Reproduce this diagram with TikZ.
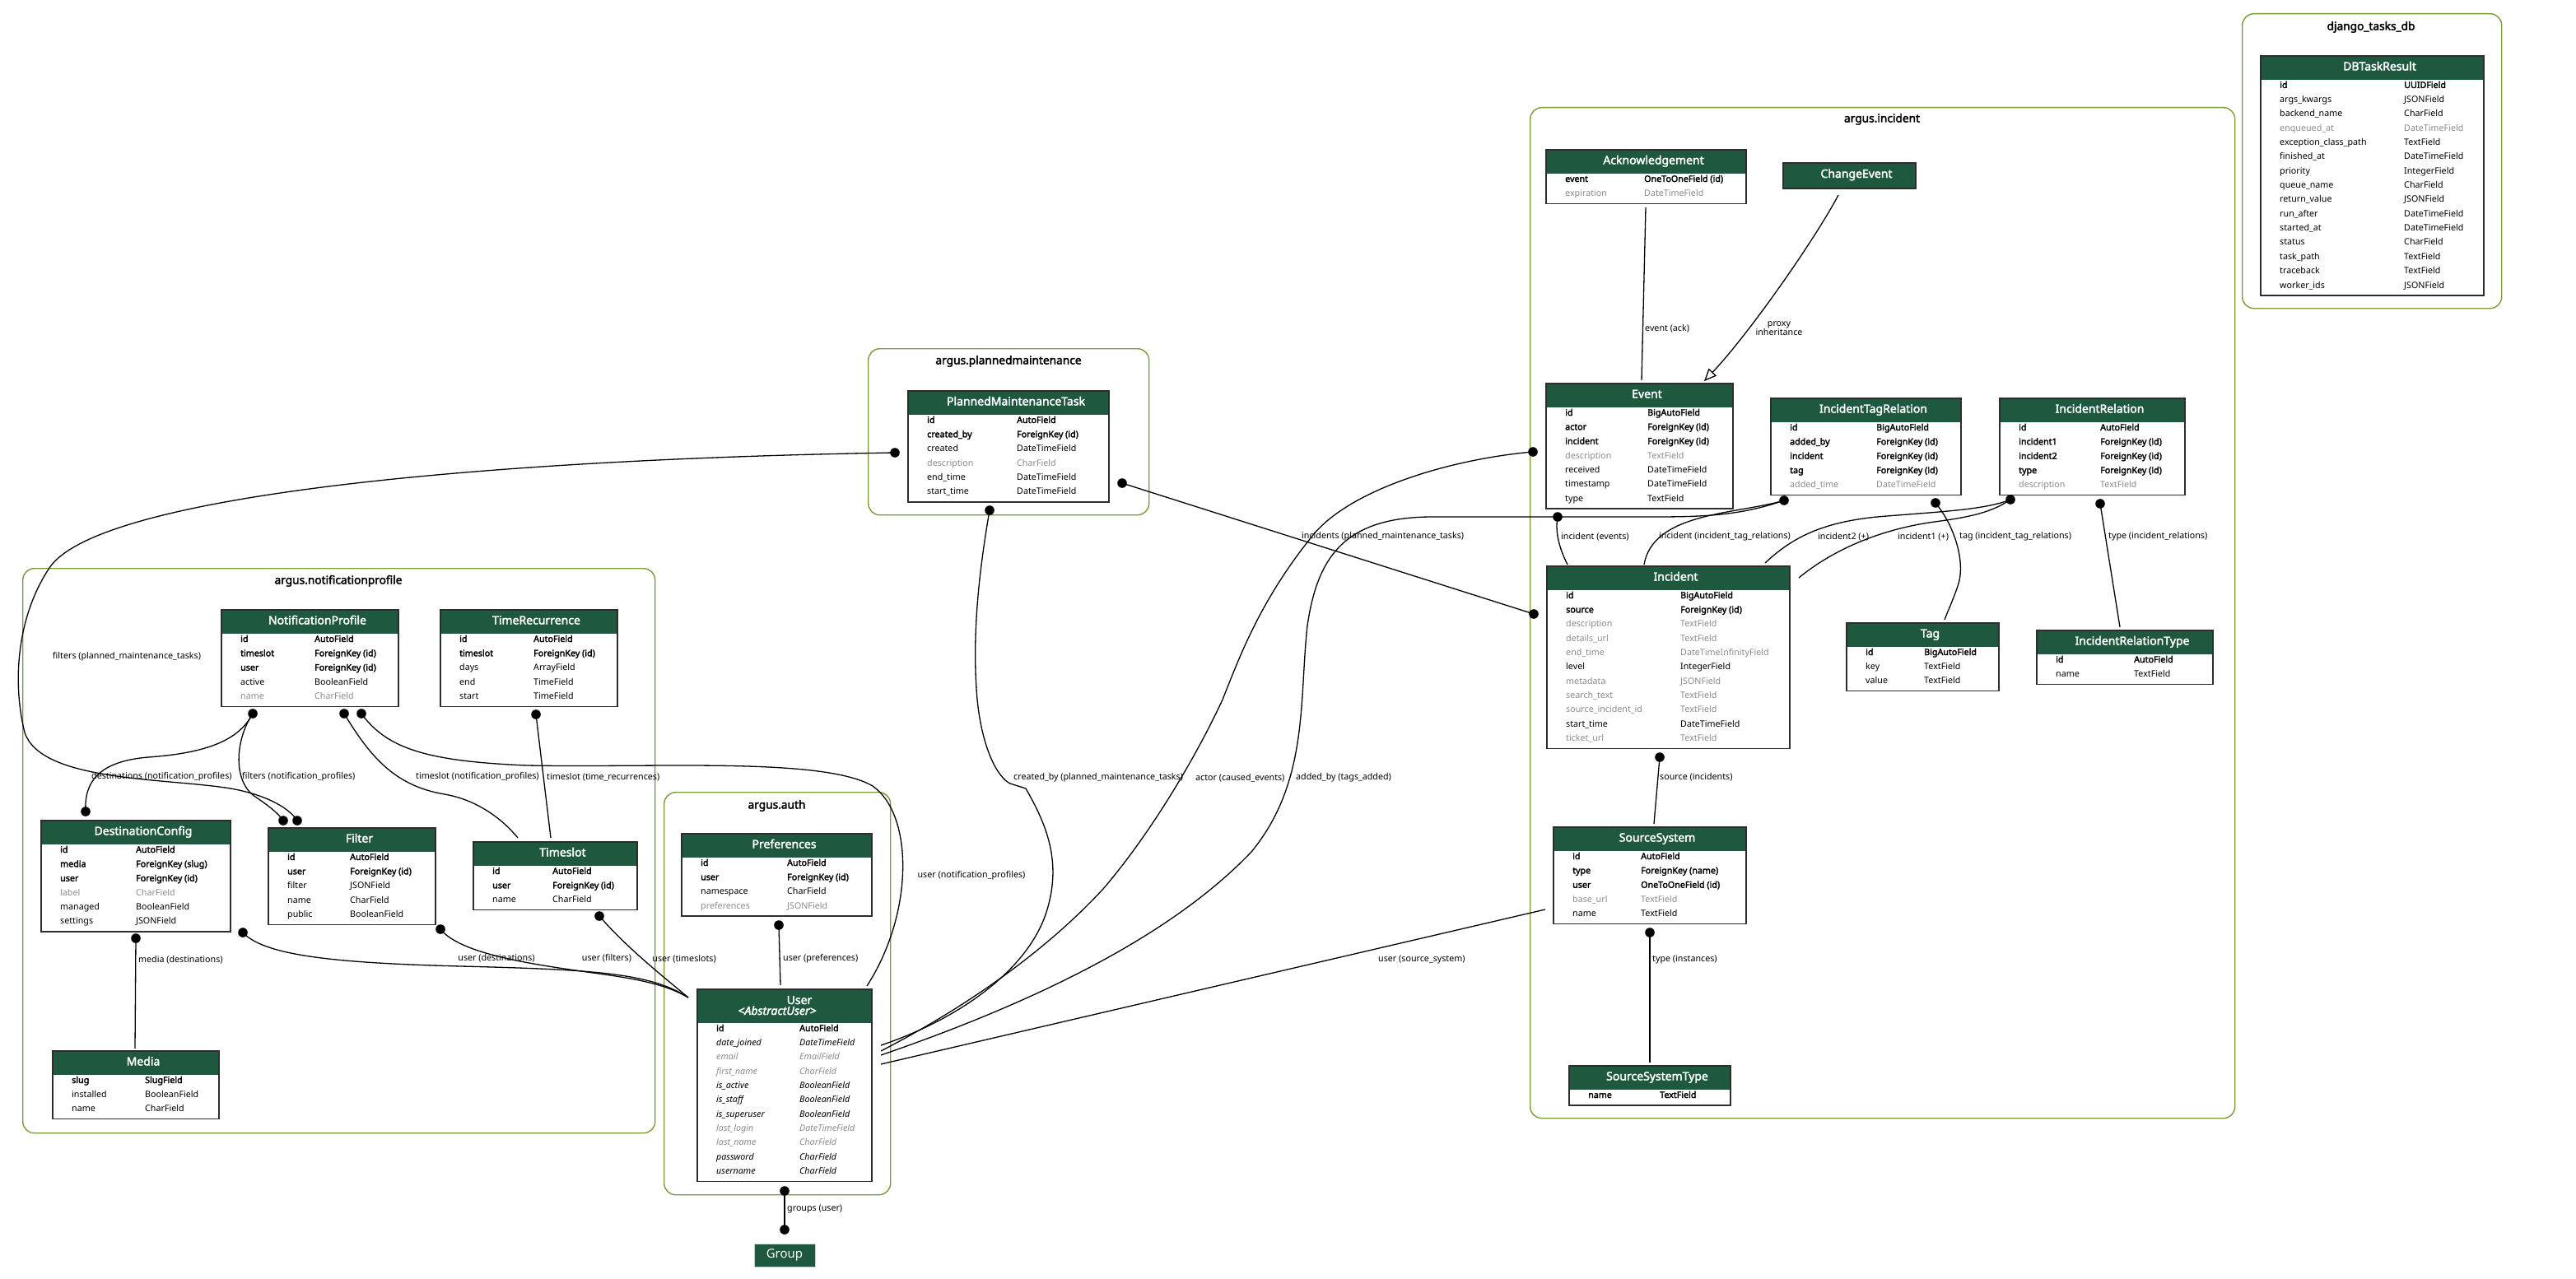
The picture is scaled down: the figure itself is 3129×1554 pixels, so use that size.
\documentclass[tikz,border=0pt]{standalone}
\usepackage{fontspec}
\setmainfont{Noto Sans}
\newfontfamily\boldfam{Noto Sans}[FakeBold=2.5]
\usetikzlibrary{arrows.meta}
\definecolor{hdrg}{RGB}{30,88,63}
\definecolor{clus}{RGB}{122,155,58}
\definecolor{txtgray}{RGB}{140,140,140}
\definecolor{tblb}{RGB}{45,45,45}
\newcommand\KB{\boldfam}
\newcommand\KN{}
\newcommand\KG{\color{txtgray}}
\newcommand\KI{\itshape}
\newcommand\KJ{\itshape\color{txtgray}}
\newcommand\fldfont{\fontsize{10.7}{12.8}\selectfont}
\newcommand\ttlfont{\boldfam\fontsize{14}{16}\selectfont}
\tikzset{
  tblbox/.style={draw=tblb, line width=1.5pt, fill=white, inner sep=0pt, outer sep=0pt},
  tblline/.style={draw=tblb, line width=1.5pt},
  hdrfill/.style={fill=hdrg},
  fldtxt/.style={anchor=base west, inner sep=0pt, font=\fldfont},
  ttl/.style={anchor=base, inner sep=0pt, font=\ttlfont, text=white},
  clusterbox/.style={draw=clus, line width=1.4pt, rounded corners=14pt, inner sep=0pt},
  clustertitle/.style={anchor=base, inner sep=0pt, font=\boldfam\fontsize{13.7}{15}\selectfont},
  edge/.style={draw=black, line width=1.3pt},
  elabel/.style={inner sep=0pt, font=\fldfont},
  fkdot/.style={fill=black},
}
\newcommand\mktable[9]{%
  \pgfmathsetmacro\tblht{#5+19+(#6-1)*17.36}%
  \node[tblbox, minimum width=#4pt, minimum height=\tblht pt, anchor=north west] (#1) at (#2,#3) {};%
  \fill[hdrfill] (#2,#3) rectangle (#2+#4,#3+#5);%
  \node[ttl] (#1-title) at (#2+#4/2+9,#3+17.5) {#9};%
  \foreach \rs/\rn/\rt [count=\ri] in {#8} {%
    \node[fldtxt] (#1-n\ri) at (#2+23,#3+#5+10+\ri*17.36-17.36) {\rs\rn};%
    \node[fldtxt] (#1-t\ri) at (#2+#7,#3+#5+10+\ri*17.36-17.36) {\rs\rt};%
  }%
  \draw[tblline] (#1.north west) rectangle (#1.south east);%
}
\begin{document}
\begin{tikzpicture}[x=1pt,y=-1pt]
\useasboundingbox (0,0) rectangle (3129,1554);
\fill[white] (0,0) rectangle (3129,1554);
% clusters
\node[clusterbox, minimum width=315pt, minimum height=358pt, anchor=north west] (cldjango) at (2723,16) {};
\node[clustertitle] (tdjango) at (2880,36.5) {django\_tasks\_db};
\node[clusterbox, minimum width=856pt, minimum height=1228pt, anchor=north west] (clincident) at (1858,130) {};
\node[clustertitle] (tincident) at (2286,148.5) {argus.incident};
\node[clusterbox, minimum width=341pt, minimum height=202pt, anchor=north west] (clpm) at (1054,423) {};
\node[clustertitle] (tpm) at (1225,442.5) {argus.plannedmaintenance};
\node[clusterbox, minimum width=768pt, minimum height=686pt, anchor=north west] (clnotif) at (27,690) {};
\node[clustertitle] (tnotif) at (411,709.5) {argus.notificationprofile};
\node[clusterbox, minimum width=275pt, minimum height=489pt, anchor=north west] (clauth) at (806,962) {};
\node[clustertitle] (tauth) at (943.5,982.5) {argus.auth};
% endpoints
\coordinate (ackB) at (1999,252);
\coordinate (evT1) at (1994,462);
\coordinate (ceB) at (2233,237);
\coordinate (evT2) at (2070,463);
\coordinate (evDot) at (1892,628);
\coordinate (incT1) at (1904,686);
\coordinate (itrL) at (2167,608);
\coordinate (incT2) at (1997,686);
\coordinate (itrR) at (2351,611);
\coordinate (tagT) at (2362,753);
\coordinate (irL) at (2442,607);
\coordinate (irR) at (2551,612);
\coordinate (incT3) at (2144,684);
\coordinate (incR) at (2185,702);
\coordinate (irtT) at (2575,762);
\coordinate (incB) at (2016,920);
\coordinate (ssT) at (2009,1001);
\coordinate (ssB) at (2004,1133);
\coordinate (sstT) at (2004,1291);
\coordinate (ssL) at (1877,1105);
\coordinate (evL) at (1862,549);
\coordinate (incL) at (1863,746);
\coordinate (pmtL) at (1087,550);
\coordinate (pmtR) at (1363,587);
\coordinate (pmtB) at (1202,620);
\coordinate (userR1) at (1070,1270);
\coordinate (userR2) at (1070,1277);
\coordinate (userR3) at (1070,1282);
\coordinate (userR4) at (1070,1293);
\coordinate (userTR) at (1053,1198);
\coordinate (userT) at (948,1197);
\coordinate (userL) at (836,1212);
\coordinate (userB) at (953,1447);
\coordinate (grpT) at (953,1494);
\coordinate (prefB) at (946,1124);
\coordinate (npB1) at (307,867);
\coordinate (npB2) at (418,867);
\coordinate (npB3) at (439,867);
\coordinate (trB) at (651,868);
\coordinate (tsT1) at (629,1018);
\coordinate (tsT2) at (669,1018);
\coordinate (tsB) at (728,1113);
\coordinate (dcT) at (104,986);
\coordinate (dcB) at (165,1140);
\coordinate (dcBR) at (295,1133);
\coordinate (mediaT) at (164,1274);
\coordinate (fiT1) at (344,997);
\coordinate (fiT2) at (361,997);
\coordinate (fiBR) at (535,1129);
% edges
\draw[edge] (ackB) -- (evT1);
\draw[edge, -{Triangle[open, length=15pt, width=13pt]}] (ceB) .. controls (2205,290) and (2125,405) .. (evT2);
\draw[edge] (evDot) .. controls (1888,650) and (1897,672) .. (incT1);
\draw[edge] (itrL) .. controls (2110,625) and (2008,622) .. (incT2);
\draw[edge] (itrL) .. controls (2110,628) and (2060,628) .. (2000,628) -- (1740,628) .. controls (1630,628) and (1600,680) .. (1588,760) .. controls (1578,850) and (1590,950) .. (1520,1035) .. controls (1420,1140) and (1250,1220) .. (userR3);
\draw[edge] (evL) .. controls (1760,558) and (1640,595) .. (1595,650) .. controls (1530,730) and (1505,800) .. (1485,850) .. controls (1455,915) and (1400,1010) .. (1340,1080) .. controls (1280,1145) and (1190,1215) .. (userR2);
\draw[edge] (pmtB) .. controls (1190,690) and (1180,770) .. (1187,850) .. controls (1193,910) and (1212,945) .. (1227,952) -- (1246,958) .. controls (1270,1000) and (1290,1045) .. (1272,1105) .. controls (1250,1180) and (1160,1240) .. (userR1);
\draw[edge] (pmtR) -- (incL);
\draw[edge] (pmtL) .. controls (600,558) and (120,600) .. (60,690) .. controls (20,750) and (15,830) .. (30,890) .. controls (50,950) and (200,945) .. (280,958) .. controls (320,965) and (350,980) .. (fiT2);
\draw[edge] (npB1) .. controls (290,900) and (250,915) .. (180,920) .. controls (120,925) and (102,950) .. (dcT);
\draw[edge] (npB1) .. controls (285,900) and (283,950) .. (310,968) .. controls (325,978) and (338,988) .. (fiT1);
\draw[edge] (npB2) .. controls (450,920) and (480,955) .. (540,965) .. controls (580,972) and (610,995) .. (tsT1);
\draw[edge] (npB3) .. controls (470,910) and (520,925) .. (640,930) .. controls (800,933) and (1000,920) .. (1060,955) .. controls (1110,990) and (1110,1110) .. (userTR);
\draw[edge] (trB) -- (tsT2);
\draw[edge] (dcB) -- (mediaT);
\draw[edge] (dcBR) .. controls (320,1160) and (400,1170) .. (560,1174) .. controls (720,1178) and (790,1182) .. (userL);
\draw[edge] (fiBR) .. controls (560,1160) and (650,1172) .. (720,1182) .. controls (780,1190) and (810,1197) .. (userL);
\draw[edge] (tsB) .. controls (760,1150) and (800,1182) .. (userL);
\draw[edge] (prefB) -- (userT);
\draw[edge] (userB) -- (grpT);
\draw[edge] (ssL) -- (userR4);
\draw[edge] (incB) -- (ssT);
\draw[edge] (ssB) -- (sstT);
\draw[edge] (itrR) .. controls (2375,640) and (2388,685) .. (2378,712) .. controls (2372,730) and (2366,742) .. (tagT);
\draw[edge] (irR) -- (irtT);
\draw[edge] (irL) .. controls (2410,620) and (2350,622) .. (2280,628) .. controls (2210,635) and (2175,655) .. (incT3);
\draw[edge] (irL) .. controls (2420,622) and (2395,628) .. (2350,634) .. controls (2290,642) and (2230,665) .. (incR);
% tables
\mktable{dbtask}{2746}{68}{271}{29}{15}{174}{\KB/id/UUIDField, \KN/args\_kwargs/JSONField, \KN/backend\_name/CharField, \KG/enqueued\_at/DateTimeField, \KN/exception\_class\_path/TextField, \KN/finished\_at/DateTimeField, \KN/priority/IntegerField, \KN/queue\_name/CharField, \KN/return\_value/JSONField, \KN/run\_after/DateTimeField, \KN/started\_at/DateTimeField, \KN/status/CharField, \KN/task\_path/TextField, \KN/traceback/TextField, \KN/worker\_ids/JSONField}{DBTaskResult}
\mktable{ack}{1878}{182}{243}{29}{2}{119}{\KB/event/OneToOneField (id), \KG/expiration/DateTimeField}{Acknowledgement}
\node[tblbox, fill=hdrg, minimum width=161pt, minimum height=31pt, anchor=north west] (changeevent) at (2166,198) {};
\node[ttl] (changeevent-title) at (2255,216) {ChangeEvent};
\mktable{event}{1878}{466}{227}{29}{7}{123}{\KB/id/BigAutoField, \KB/actor/ForeignKey (id), \KB/incident/ForeignKey (id), \KG/description/TextField, \KN/received/DateTimeField, \KN/timestamp/DateTimeField, \KN/type/TextField}{Event}
\mktable{itr}{2151}{484}{231}{29}{5}{128}{\KB/id/BigAutoField, \KB/added\_by/ForeignKey (id), \KB/incident/ForeignKey (id), \KB/tag/ForeignKey (id), \KG/added\_time/DateTimeField}{IncidentTagRelation}
\mktable{ir}{2429}{484}{225}{29}{5}{122}{\KB/id/AutoField, \KB/incident1/ForeignKey (id), \KB/incident2/ForeignKey (id), \KB/type/ForeignKey (id), \KG/description/TextField}{IncidentRelation}
\mktable{incident}{1879}{688}{295}{29}{11}{162}{\KB/id/BigAutoField, \KB/source/ForeignKey (id), \KG/description/TextField, \KG/details\_url/TextField, \KG/end\_time/DateTimeInfinityField, \KN/level/IntegerField, \KG/metadata/JSONField, \KG/search\_text/TextField, \KG/source\_incident\_id/TextField, \KN/start\_time/DateTimeField, \KG/ticket\_url/TextField}{Incident}
\mktable{tag}{2243}{757}{185}{29}{3}{94}{\KB/id/BigAutoField, \KN/key/TextField, \KN/value/TextField}{Tag}
\mktable{irt}{2474}{766}{214}{29}{2}{118}{\KB/id/AutoField, \KN/name/TextField}{IncidentRelationType}
\mktable{ss}{1887}{1005}{234}{29}{5}{106}{\KB/id/AutoField, \KB/type/ForeignKey (name), \KB/user/OneToOneField (id), \KG/base\_url/TextField, \KN/name/TextField}{SourceSystem}
\mktable{sst}{1906}{1295}{196}{29}{1}{110}{\KB/name/TextField}{SourceSystemType}
\mktable{pmt}{1103}{475}{244}{29}{6}{132}{\KB/id/AutoField, \KB/created\_by/ForeignKey (id), \KN/created/DateTimeField, \KG/description/CharField, \KN/end\_time/DateTimeField, \KN/start\_time/DateTimeField}{PlannedMaintenanceTask}
\mktable{np}{269}{741}{215}{29}{5}{113}{\KB/id/AutoField, \KB/timeslot/ForeignKey (id), \KB/user/ForeignKey (id), \KN/active/BooleanField, \KG/name/CharField}{NotificationProfile}
\mktable{tr}{535}{741}{215}{29}{5}{113}{\KB/id/AutoField, \KB/timeslot/ForeignKey (id), \KN/days/ArrayField, \KN/end/TimeField, \KN/start/TimeField}{TimeRecurrence}
\mktable{dc}{50}{997}{230}{29}{6}{115}{\KB/id/AutoField, \KB/media/ForeignKey (slug), \KB/user/ForeignKey (id), \KG/label/CharField, \KN/managed/BooleanField, \KN/settings/JSONField}{DestinationConfig}
\mktable{filter}{326}{1006}{203}{29}{5}{99}{\KB/id/AutoField, \KB/user/ForeignKey (id), \KN/filter/JSONField, \KN/name/CharField, \KN/public/BooleanField}{Filter}
\mktable{timeslot}{575}{1023}{199}{29}{3}{96}{\KB/id/AutoField, \KB/user/ForeignKey (id), \KN/name/CharField}{Timeslot}
\mktable{media}{64}{1277}{202}{29}{3}{112}{\KB/slug/SlugField, \KN/installed/BooleanField, \KN/name/CharField}{Media}
\mktable{prefs}{828}{1013}{231}{29}{4}{128}{\KB/id/AutoField, \KB/user/ForeignKey (id), \KN/namespace/CharField, \KG/preferences/JSONField}{Preferences}
\mktable{user}{847}{1202}{212}{41}{11}{124}{\KB/id/AutoField, \KI/date\_joined/DateTimeField, \KJ/email/EmailField, \KJ/first\_name/CharField, \KI/is\_active/BooleanField, \KI/is\_staff/BooleanField, \KI/is\_superuser/BooleanField, \KJ/last\_login/DateTimeField, \KJ/last\_name/CharField, \KI/password/CharField, \KI/username/CharField}{}
\node[ttl] (user-t1) at (971,1220) {User};
\node[ttl, font=\ttlfont\itshape] (user-t2) at (944,1233) {<AbstractUser>};
\node[fill=hdrg, draw=white!75!hdrg, line width=0.8pt, minimum width=74pt, minimum height=28pt, inner sep=0pt, text=white, font=\fontsize{15}{18}\selectfont] (group) at (953,1525) {Group};
% dots
\foreach \d in {evDot,itrL,itrR,irL,irR,incB,ssB,evL,incL,pmtL,pmtR,pmtB,userB,grpT,prefB,npB1,npB2,npB3,trB,tsB,dcT,dcB,dcBR,fiT1,fiT2,fiBR}
  \fill[fkdot] (\d) circle (5.8pt);
% labels
\node[elabel, anchor=west] (l1) at (1998,399) {event (ack)};
\node[elabel, align=center] (l2) at (2161,399) {proxy\\[-2.5pt]inheritance};
\node[elabel, anchor=west] (l3) at (1896,652) {incident (events)};
\node[elabel, anchor=west] (l4) at (2015,652) {incident (incident\_tag\_relations)};
\node[elabel, anchor=west] (l5) at (2208,652) {incident2 (+)};
\node[elabel, anchor=west] (l6) at (2305,652) {incident1 (+)};
\node[elabel, anchor=west] (l7) at (2380,652) {tag (incident\_tag\_relations)};
\node[elabel, anchor=west] (l8) at (2561,652) {type (incident\_relations)};
\node[elabel, anchor=west] (l9) at (1581,652) {incidents (planned\_maintenance\_tasks)};
\node[elabel, anchor=west] (l10) at (1231,945) {created\_by (planned\_maintenance\_tasks)};
\node[elabel, anchor=west] (l11) at (1452,945) {actor (caused\_events)};
\node[elabel, anchor=west] (l12) at (1574,945) {added\_by (tags\_added)};
\node[elabel, anchor=west] (l13) at (2016,944) {source (incidents)};
\node[elabel, anchor=west] (l14) at (2007,1166) {type (instances)};
\node[elabel, anchor=west] (l15) at (1674,1166) {user (source\_system)};
\node[elabel] (l16) at (1180,1064) {user (notification\_profiles)};
\node[elabel] (l17) at (154,798) {filters (planned\_maintenance\_tasks)};
\node[elabel, anchor=west] (l18) at (111,944) {destinations (notification\_profiles)};
\node[elabel, anchor=west] (l19) at (294,944) {filters (notification\_profiles)};
\node[elabel, anchor=west] (l20) at (505,944) {timeslot (notification\_profiles)};
\node[elabel, anchor=west] (l21) at (664,944) {timeslot (time\_recurrences)};
\node[elabel, anchor=west] (l22) at (168,1166) {media (destinations)};
\node[elabel] (l23) at (603,1164) {user (destinations)};
\node[elabel] (l24) at (737,1164) {user (filters)};
\node[elabel, anchor=east] (l25) at (870,1165) {user (timeslots)};
\node[elabel, anchor=west] (l26) at (951,1165) {user (preferences)};
\node[elabel, anchor=west] (l27) at (956,1469) {groups (user)};
\end{tikzpicture}
\end{document}
